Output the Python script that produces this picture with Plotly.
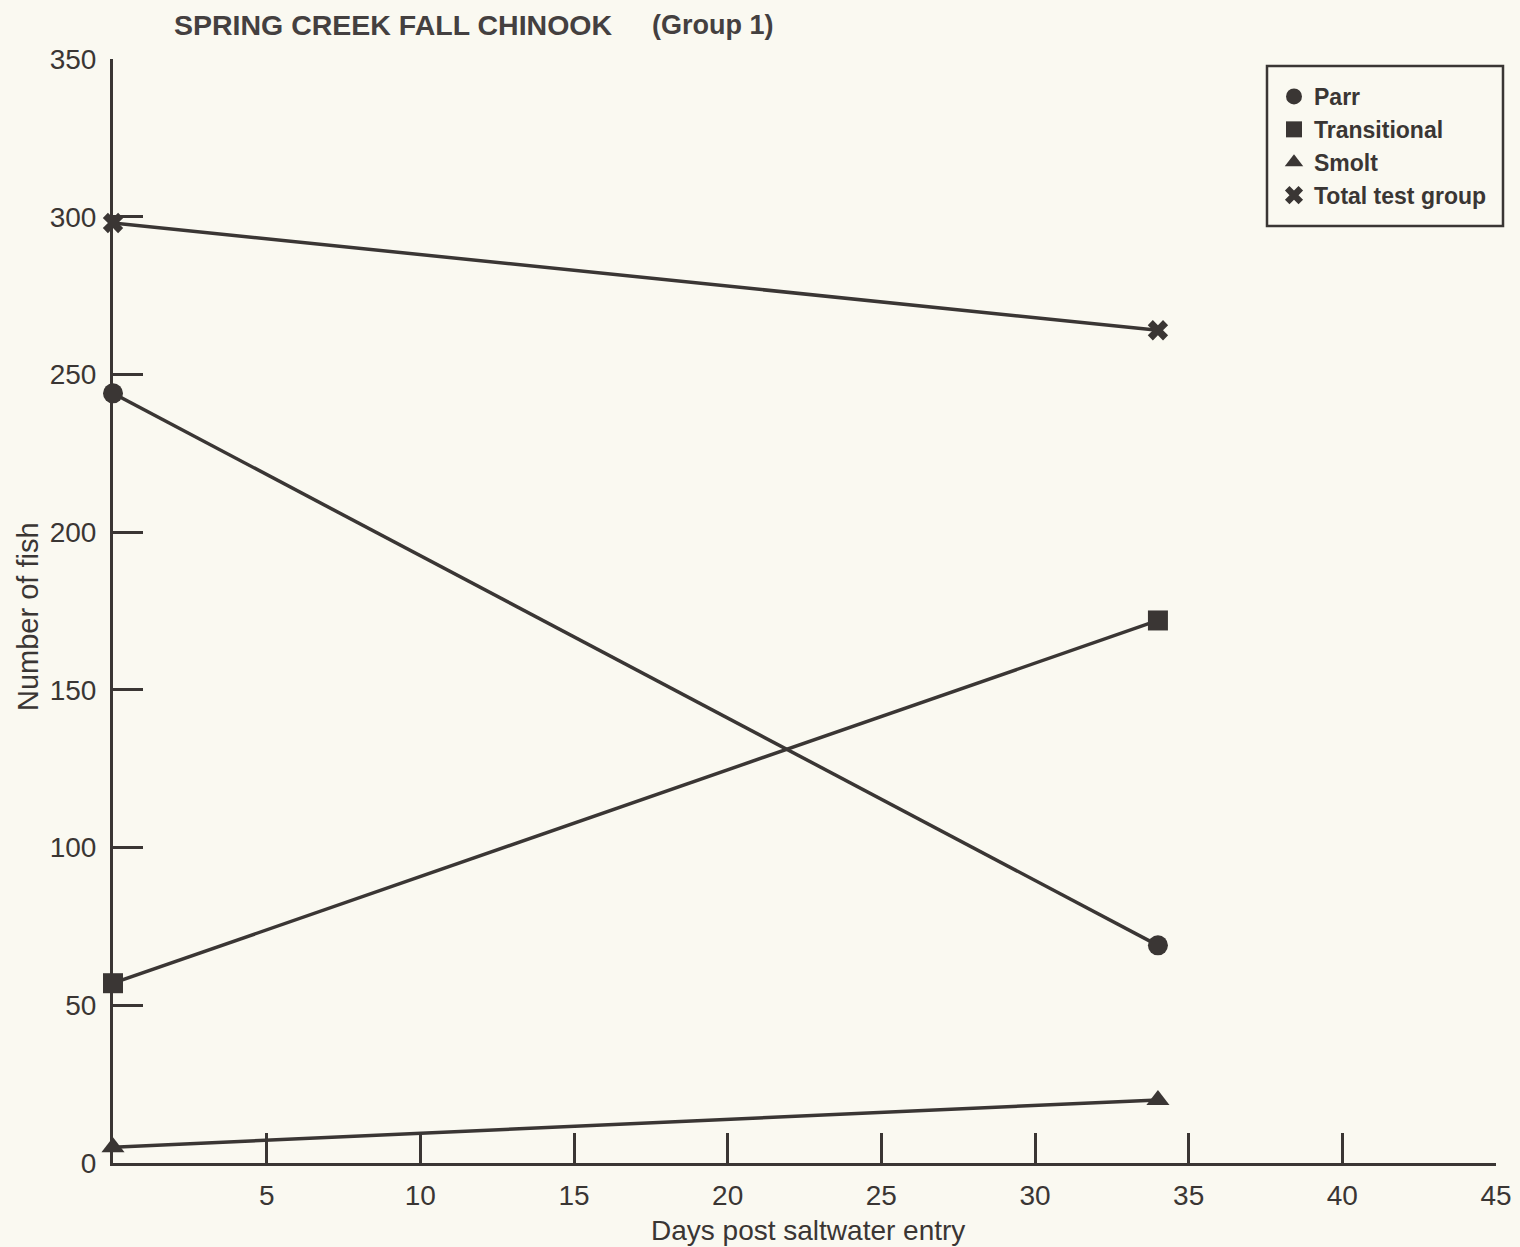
import plotly.graph_objects as go

days = [0, 34]
parr = [244, 69]
transitional = [57, 172]
smolt = [5, 20]
total = [298, 264]

series_names = ["Parr", "Transitional", "Smolt", "Total test group"]
series_values = [parr, transitional, smolt, total]
symbols = ["circle", "square", "triangle-up", "x"]

x_ticks = [5, 10, 15, 20, 25, 30, 35, 40, 45]
y_ticks = [0, 50, 100, 150, 200, 250, 300, 350]

ink = "#3a3634"
bg = "#faf9f1"
font_family = "Liberation Sans, Arial, sans-serif"

W, H = 1520, 1247
L, R, T, B = 113, 24, 59, 84
PW, PH = W - L - R, H - T - B


def px(xp):
    return (xp - L) / PW


def py(yp):
    return (H - B - yp) / PH


fig = go.Figure()
for name, vals in zip(series_names, series_values):
    fig.add_trace(go.Scatter(x=days, y=vals, mode="lines", line=dict(color=ink, width=3.5),
                             showlegend=False, cliponaxis=False, hoverinfo="skip"))
for name, vals, sym in zip(series_names, series_values, symbols):
    size = 18 if sym == "x" else 20
    marker = dict(symbol=sym, size=size, color=ink, line=dict(width=0))
    fig.add_trace(go.Scatter(x=days, y=vals, mode="markers", name=name, marker=marker,
                             cliponaxis=False))

fig.update_layout(
    width=W, height=H,
    paper_bgcolor=bg, plot_bgcolor=bg,
    margin=dict(l=L, r=R, t=T, b=B),
    font=dict(family=font_family, color=ink, size=28),
    legend=dict(x=px(1274), y=py(75), xanchor="left", yanchor="top",
                bgcolor="rgba(0,0,0,0)", borderwidth=0,
                font=dict(size=23, family=font_family, color=ink, weight="bold"),
                itemwidth=30),
    shapes=[dict(type="rect", xref="paper", yref="paper",
                 x0=px(1267), x1=px(1503), y0=py(226), y1=py(66),
                 line=dict(color=ink, width=2.5), fillcolor="rgba(0,0,0,0)")],
    annotations=[
        dict(text="<b>SPRING CREEK FALL CHINOOK</b>", xref="paper", yref="paper",
             x=px(172), y=py(25), xanchor="left", yanchor="middle",
             showarrow=False, font=dict(size=28.5, color="#444040")),
        dict(text="<b>(Group 1)</b>", xref="paper", yref="paper",
             x=px(650), y=py(25), xanchor="left", yanchor="middle",
             showarrow=False, font=dict(size=27, color="#444040")),
        dict(text="Days post saltwater entry", xref="paper", yref="paper",
             x=px(808), y=py(1230), xanchor="center", yanchor="middle",
             showarrow=False, font=dict(size=28, color=ink)),
        dict(text="Number of fish", xref="paper", yref="paper", textangle=-90,
             x=px(28), y=py(617), xanchor="center", yanchor="middle",
             showarrow=False, font=dict(size=29, color=ink)),
    ],
)
fig.update_xaxes(range=[0, 45], tickvals=x_ticks, ticks="inside", ticklen=30, tickwidth=3,
                 tickcolor=ink, showline=True, linecolor=ink, linewidth=3, showgrid=False,
                 zeroline=False, tickfont=dict(size=28), ticklabelstandoff=5, automargin=False)
fig.update_yaxes(range=[0, 350], tickvals=y_ticks, ticks="inside", ticklen=30, tickwidth=3,
                 tickcolor=ink, showline=True, linecolor=ink, linewidth=3, showgrid=False,
                 zeroline=False, tickfont=dict(size=28), ticklabelstandoff=8, automargin=False)

fig.write_html("out.html", config={"displayModeBar": False})

with open("out.html", "r", encoding="utf-8") as f:
    html = f.read()
html = html.replace("<head>", "<head><style>html,body{margin:0;padding:0;background:#faf9f1;overflow:hidden;}</style>", 1)
with open("out.html", "w", encoding="utf-8") as f:
    f.write(html)
